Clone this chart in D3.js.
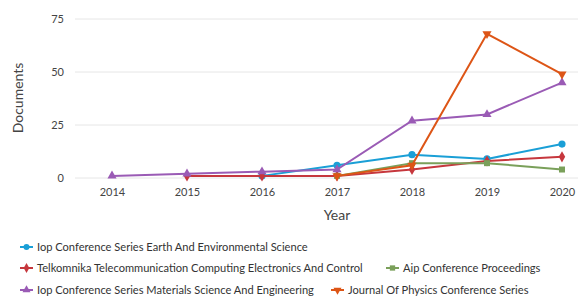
<!DOCTYPE html>
<html><head><meta charset="utf-8">
<script src="https://cdn.jsdelivr.net/npm/d3@7"></script>
<style>body{margin:0;background:#fff;} text{font-family:Lato, "Open Sans", sans-serif;}</style>
</head><body><svg id="c" width="578" height="298"></svg>
<script>
const years = [2014, 2015, 2016, 2017, 2018, 2019, 2020];
const yTicks = [0, 25, 50, 75];
const seriesNames = [
  "Iop Conference Series Earth And Environmental Science",
  "Telkomnika Telecommunication Computing Electronics And Control",
  "Aip Conference Proceedings",
  "Iop Conference Series Materials Science And Engineering",
  "Journal Of Physics Conference Series"
];
const earthEnv = [null, null, 1, 6, 11, 9, 16];
const telkomnika = [null, 1, 1, 1, 4, 8, 10];
const aip = [null, null, null, 1, 7, 7, 4];
const materials = [1, 2, 3, 4, 27, 30, 45];
const physics = [null, null, null, 1, 6, 68, 49];
const colors = ["#1a9fd6", "#c6373d", "#7aa05a", "#9a5bb5", "#dd5516"];
const symbols = [d3.symbolCircle, d3.symbolDiamond, d3.symbolSquare, d3.symbolTriangle, d3.symbolTriangle];
const rotations = [0, 0, 0, 0, 180];
const values = [earthEnv, telkomnika, aip, materials, physics];

const svg = d3.select("#c");
const x = d3.scalePoint().domain(years).range([112, 562]);
const y = d3.scaleLinear().domain([0, 75]).range([178, 19]);

// grid
svg.append("g").selectAll("line").data(yTicks).join("line")
  .attr("x1", 75).attr("x2", 578).attr("y1", d => y(d)).attr("y2", d => y(d))
  .attr("stroke", "#e6e6e6").attr("stroke-width", 1);

const yAxis = svg.append("g").attr("transform", "translate(64,0)")
  .call(d3.axisLeft(y).tickValues(yTicks).tickSize(0).tickPadding(0));
yAxis.select(".domain").remove();
yAxis.selectAll("text").attr("font-size", 11).attr("fill", "#444");

const xAxis = svg.append("g").attr("transform", "translate(0,188)")
  .call(d3.axisBottom(x).tickSize(0).tickPadding(0).tickFormat(d3.format("d")));
xAxis.select(".domain").remove();
xAxis.selectAll("text").attr("font-size", 11).attr("fill", "#444").attr("dy", "0.71em");

svg.append("text").attr("transform", "translate(23,98) rotate(-90)")
  .attr("text-anchor", "middle").attr("font-size", 14).attr("fill", "#444").text("Documents");
svg.append("text").attr("x", 337).attr("y", 220)
  .attr("text-anchor", "middle").attr("font-size", 14).attr("fill", "#444").text("Year");

const line = d3.line().defined(d => d.v != null).x(d => x(d.yr)).y(d => y(d.v));
values.forEach((vals, i) => {
  const pts = years.map((yr, j) => ({yr, v: vals[j]}));
  const g = svg.append("g");
  g.append("path").datum(pts).attr("d", line).attr("fill", "none")
    .attr("stroke", colors[i]).attr("stroke-width", 2);
  g.selectAll("path.m").data(pts.filter(d => d.v != null)).join("path").attr("class", "m")
    .attr("transform", d => `translate(${x(d.yr)},${y(d.v)}) rotate(${rotations[i]})`)
    .attr("d", d3.symbol().type(symbols[i]).size(i === 0 ? 40 : 36))
    .attr("fill", colors[i]);
});

// legend
const legendPos = [[20, 247], [20, 268], [386, 268], [20, 290], [331, 290]];
seriesNames.forEach((name, i) => {
  const [lx, ly] = legendPos[i];
  const g = svg.append("g").attr("transform", `translate(${lx},${ly})`);
  g.append("line").attr("x1", 0).attr("x2", 13).attr("y1", 0).attr("y2", 0)
    .attr("stroke", colors[i]).attr("stroke-width", 2);
  g.append("path").attr("transform", `translate(6.5,0) rotate(${rotations[i]})`)
    .attr("d", d3.symbol().type(symbols[i]).size(28)).attr("fill", colors[i]);
  g.append("text").attr("x", 17).attr("y", 0).attr("dy", "0.35em")
    .attr("font-size", 11.1).attr("fill", "#333").text(name);
});
</script></body></html>
